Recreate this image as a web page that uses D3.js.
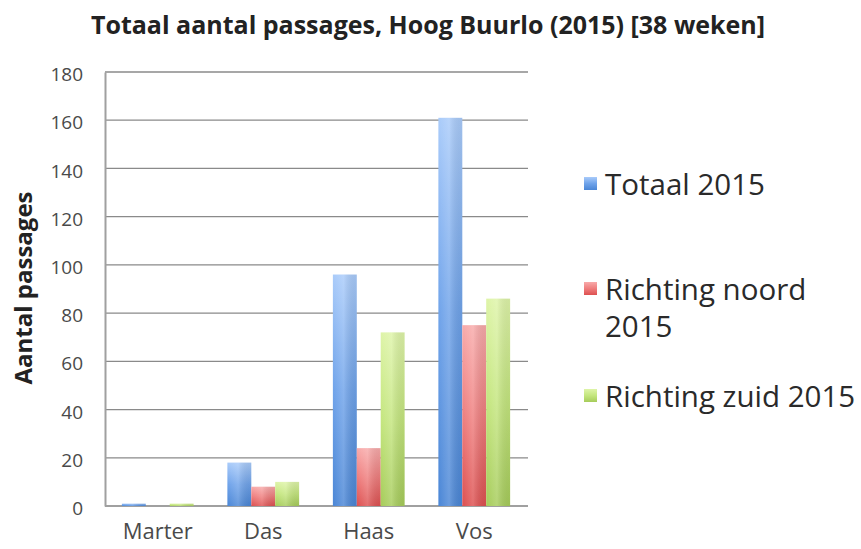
<!DOCTYPE html>
<html>
<head>
<meta charset="utf-8">
<script src="https://cdn.jsdelivr.net/npm/d3@7"></script>
<style>
  html, body { margin: 0; padding: 0; background: #fff; }
  svg { display: block; font-family: "Open Sans", Lato, sans-serif; }
</style>
</head>
<body>
<svg id="chart" width="861" height="549"></svg>
<script>
// Passages per species, Hoog Buurlo 2015
const categories = ["Marter", "Das", "Haas", "Vos"];
const seriesNames = ["Totaal 2015", "Richting noord 2015", "Richting zuid 2015"];
const totaal = [1, 18, 96, 161];
const noord = [0, 8, 24, 75];
const zuid = [1, 10, 72, 86];
const yTicks = [0, 20, 40, 60, 80, 100, 120, 140, 160, 180];

const seriesValues = [totaal, noord, zuid];
const seriesKeys = ["totaal", "noord", "zuid"];
const palette = {
  totaal: { top: "#a9cbfa", mid: "#6fa3ea", bot: "#4a86d6" },
  noord:  { top: "#f8aaaa", mid: "#ef7e7e", bot: "#dd5050" },
  zuid:   { top: "#def4a8", mid: "#c4e67e", bot: "#a6cc5a" }
};
const FONT = "'Open Sans', Lato, sans-serif";

const svg = d3.select("#chart");
const margin = { left: 105, right: 334, top: 72, bottom: 43 };
const W = 861, H = 549;

const x0 = d3.scaleBand().domain(categories).range([margin.left, W - margin.right]).paddingInner(0.32).paddingOuter(0.16);
const x1 = d3.scaleBand().domain(seriesKeys).range([0, x0.bandwidth()]);
const y = d3.scaleLinear().domain([0, 180]).range([H - margin.bottom, margin.top]);

// gradients for the bars and legend swatches
const defs = svg.append("defs");
seriesKeys.forEach(k => {
  const g = defs.append("linearGradient").attr("id", "grad-" + k)
    .attr("x1", 0).attr("y1", 0).attr("x2", 0).attr("y2", 1);
  g.append("stop").attr("offset", "0%").attr("stop-color", palette[k].top);
  g.append("stop").attr("offset", "50%").attr("stop-color", palette[k].mid);
  g.append("stop").attr("offset", "100%").attr("stop-color", palette[k].bot);
  const h = defs.append("linearGradient").attr("id", "shade-" + k)
    .attr("x1", 0).attr("y1", 0).attr("x2", 1).attr("y2", 0);
  h.append("stop").attr("offset", "0%").attr("stop-color", "#fff").attr("stop-opacity", 0);
  h.append("stop").attr("offset", "45%").attr("stop-color", "#fff").attr("stop-opacity", 0.18);
  h.append("stop").attr("offset", "100%").attr("stop-color", "#000").attr("stop-opacity", 0.06);
});

// title
svg.append("text")
  .attr("x", 428).attr("y", 34)
  .attr("text-anchor", "middle")
  .attr("font-weight", "bold").attr("font-size", 25).attr("fill", "#222")
  .text("Totaal aantal passages, Hoog Buurlo (2015) [38 weken]");

// horizontal grid lines
svg.append("g").selectAll("line").data(yTicks.filter(d => d > 0)).join("line")
  .attr("x1", margin.left).attr("x2", W - margin.right + 1)
  .attr("y1", d => y(d)).attr("y2", d => y(d))
  .attr("stroke", "#8a8a8a").attr("stroke-width", 1.3);

// y axis
const yAxis = svg.append("g").attr("transform", `translate(${margin.left},0)`)
  .call(d3.axisLeft(y).tickValues(yTicks).tickSize(0).tickPadding(22))
  .attr("font-family", FONT);
yAxis.select(".domain").attr("stroke", "#a0a0a0").attr("stroke-width", 2);
yAxis.selectAll(".tick text").attr("font-size", 19).attr("fill", "#4a4a4a")
  .attr("dy", "0.45em");

// bottom axis line
svg.append("line")
  .attr("x1", margin.left).attr("x2", W - margin.right + 1)
  .attr("y1", y(0)).attr("y2", y(0))
  .attr("stroke", "#a0a0a0").attr("stroke-width", 2);

// category labels
const xAxis = svg.append("g").attr("transform", `translate(0,${y(0)})`)
  .call(d3.axisBottom(x0).tickSize(0).tickPadding(17))
  .attr("font-family", FONT);
xAxis.select(".domain").remove();
xAxis.selectAll(".tick text").attr("font-size", 22).attr("fill", "#4a4a4a");

// bars
const groups = svg.append("g").selectAll("g").data(categories).join("g")
  .attr("transform", d => `translate(${x0(d)},0)`);
seriesKeys.forEach((k, si) => {
  groups.append("rect")
    .attr("x", x1(k))
    .attr("width", x1.bandwidth())
    .attr("y", (d, i) => y(seriesValues[si][i]))
    .attr("height", (d, i) => y(0) - y(seriesValues[si][i]))
    .attr("fill", `url(#grad-${k})`);
  groups.append("rect")
    .attr("x", x1(k))
    .attr("width", x1.bandwidth())
    .attr("y", (d, i) => y(seriesValues[si][i]))
    .attr("height", (d, i) => y(0) - y(seriesValues[si][i]))
    .attr("fill", `url(#shade-${k})`);
});

// y axis title
svg.append("text")
  .attr("transform", "translate(32,288) rotate(-90)")
  .attr("text-anchor", "middle")
  .attr("font-weight", "bold").attr("font-size", 24).attr("fill", "#222")
  .text("Aantal passages");

// legend
const legendRows = [
  { key: "totaal", lines: ["Totaal 2015"], y: 195 },
  { key: "noord", lines: ["Richting noord", "2015"], y: 300 },
  { key: "zuid", lines: ["Richting zuid 2015"], y: 407 }
];
const legend = svg.append("g");
legendRows.forEach(r => {
  legend.append("rect")
    .attr("x", 584).attr("y", r.y - 18).attr("width", 13).attr("height", 13)
    .attr("fill", `url(#grad-${r.key})`);
  const t = legend.append("text").attr("x", 605).attr("y", r.y)
    .attr("font-size", 29.5).attr("fill", "#2a2a2a");
  r.lines.forEach((ln, i) => {
    t.append("tspan").attr("x", 605).attr("dy", i === 0 ? 0 : 37).text(ln);
  });
});
</script>
</body>
</html>
